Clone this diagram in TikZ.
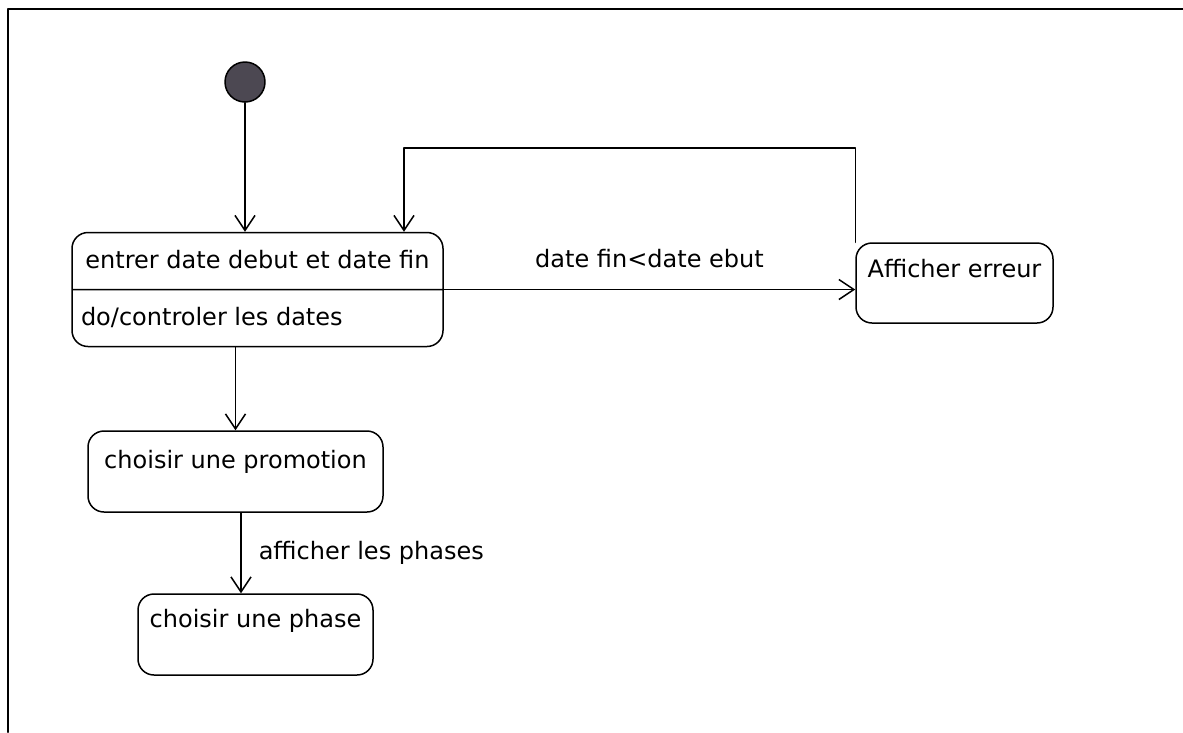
\documentclass[tikz,border=0pt]{standalone}
\usepackage{fontspec}
\setmainfont{DejaVu Sans}
\usetikzlibrary{arrows.meta,shapes.multipart}
\definecolor{initgris}{RGB}{76,72,82}
\newcommand{\etage}{\rule[-20pt]{0pt}{55.5pt}}
\begin{document}
\begin{tikzpicture}[x=1pt, y=-1pt, line cap=round, line join=round,
    every node/.style={font=\fontsize{24}{28}\selectfont},
    etat/.style={draw, line width=1.5pt, rounded corners=16pt, inner ysep=0pt},
    trans/.style={line width=1.5pt, -{Straight Barb[length=15pt, width=20pt, line width=1.5pt]}},
    lbl/.style={inner sep=1pt}]
  \useasboundingbox (0,0) rectangle (1183,732);
  % cadre
  \draw[line width=2pt] (1183,9) -- (8,9) -- (8,732);
  % etat initial
  \node[circle, draw, line width=1.5pt, fill=initgris, minimum size=40pt, inner sep=0pt] (init) at (245,82) {};
  % etats
  \node[etat, rectangle split, rectangle split parts=2, rectangle split part align={center,left},
        minimum width=371pt, inner xsep=9pt] (saisie) at (257.5,289.5)
    {\etage entrer date debut et date fin \nodepart{two}\etage do/controler les dates};
  \node[etat, minimum width=197pt, text height=34.5pt, text depth=45.5pt, inner xsep=6pt] (erreur) at (954.5,283) {Afficher erreur};
  \node[etat, minimum width=295pt, text height=37.5pt, text depth=43.5pt] (promo) at (235.5,471.5) {choisir une promotion};
  \node[etat, minimum width=235pt, text height=33.5pt, text depth=47.5pt] (phase) at (255.5,634.5) {choisir une phase};
  \coordinate (boucle) at (404,148);
  % transitions
  \draw[trans] (init) -- (init |- saisie.north);
  \draw[trans] (saisie.text split east) -- (saisie.text split east -| erreur.west)
    node[lbl, midway, above=20pt] (cond) {date fin<date ebut};
  \draw[trans] (erreur.north west) |- (boucle) -- (boucle |- saisie.north);
  \draw[trans] (promo.north |- saisie.south) -- (promo.north);
  \draw[trans] ([xshift=5.5pt]promo.south) -- ([xshift=5.5pt]promo.south |- phase.north)
    node[lbl, midway, right=16pt] (aff) {afficher les phases};
\end{tikzpicture}
\end{document}
